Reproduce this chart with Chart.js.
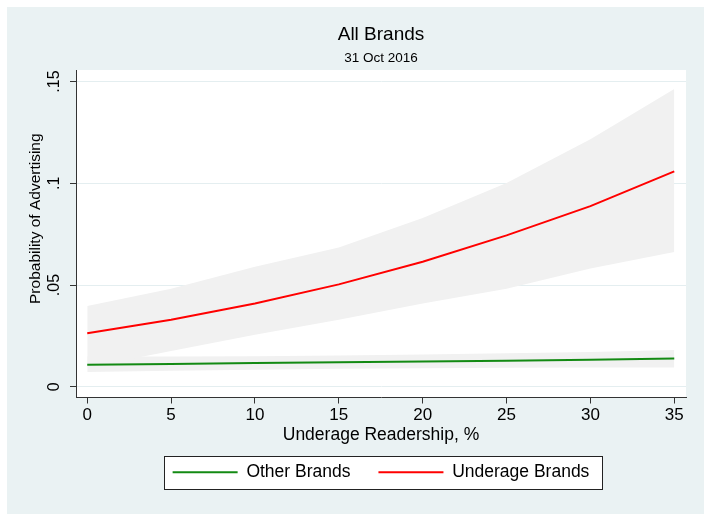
<!DOCTYPE html>
<html>
<head>
<meta charset="utf-8">
<script src="https://cdn.jsdelivr.net/npm/chart.js@4.4.1/dist/chart.umd.min.js"></script>
<style>
  html, body { margin: 0; padding: 0; background: #fff; }
  #wrap { width: 711px; height: 521px; }
</style>
</head>
<body>
<div id="wrap"><canvas id="chart" width="711" height="521"></canvas></div>
<script>
// values
const xValues = [0, 5, 10, 15, 20, 25, 30, 35];
const underageProb  = [0.0263, 0.0329, 0.0409, 0.0503, 0.0614, 0.0744, 0.0888, 0.1059];
const underageUpper = [0.0397, 0.0482, 0.0590, 0.0684, 0.0829, 0.1002, 0.1216, 0.1463];
const underageLower = [0.0095, 0.0176, 0.0255, 0.0329, 0.0409, 0.0482, 0.0581, 0.0662];
const otherProb  = [0.0108, 0.0112, 0.0116, 0.0120, 0.0124, 0.0128, 0.0133, 0.0139];
const otherUpper = [0.0149, 0.0149, 0.0150, 0.0153, 0.0158, 0.0164, 0.0171, 0.0180];
const otherLower = [0.0072, 0.0078, 0.0084, 0.0088, 0.0091, 0.0093, 0.0094, 0.0094];

const xTicks = [0, 5, 10, 15, 20, 25, 30, 35];
const yTicks = [0, 0.05, 0.1, 0.15];
const yTickLabels = ['0', '.05', '.1', '.15'];

const GREEN = '#138a13';
const RED = '#ff0000';
const BAND = '#f1f1f1';

function pts(arr) { return xValues.map((x, i) => ({ x, y: arr[i] })); }

function band(arr, fill) {
  return {
    label: '', data: pts(arr), fill,
    backgroundColor: BAND, borderWidth: 0, pointRadius: 0, tension: 0
  };
}

Chart.defaults.font.family = '"Liberation Sans", Arial, sans-serif';
Chart.defaults.color = '#000';

// stata-like backdrop, white plot region and boxed legend
const frame = {
  id: 'frame',
  afterLayout(chart) {
    const a = chart.chartArea;
    // titles and legend are centred on the plot region, not the canvas
    chart.boxes.forEach(b => {
      if (b.axis || (b.position !== 'top' && b.position !== 'bottom')) return;
      b.left = a.left; b.right = a.right; b.width = a.right - a.left;
    });
  },
  beforeDraw(chart) {
    const { ctx, chartArea: a } = chart;
    ctx.save();
    ctx.fillStyle = '#fff';
    ctx.fillRect(0, 0, chart.width, chart.height);
    ctx.fillStyle = '#eaf2f3';
    ctx.fillRect(7, 7, chart.width - 14, chart.height - 14);
    ctx.fillStyle = '#fff';
    ctx.fillRect(a.left, a.top, a.right - a.left, a.bottom - a.top);
    const hb = chart.legend.legendHitBoxes;
    if (hb && hb.length) {
      const last = hb[hb.length - 1];
      const l = Math.round(hb[0].left - 9), r = Math.round(last.left + last.width + 13);
      const t = Math.round(hb[0].top - 8), b = Math.round(hb[0].top + hb[0].height + 8);
      ctx.fillRect(l, t, r - l, b - t);
      ctx.strokeStyle = '#222';
      ctx.lineWidth = 1;
      ctx.strokeRect(l + 0.5, t + 0.5, r - l, b - t);
    }
    ctx.restore();
  }
};

const ctx = document.getElementById('chart').getContext('2d');
new Chart(ctx, {
  type: 'line',
  data: {
    datasets: [
      { label: 'Other Brands', data: pts(otherProb), borderColor: GREEN, backgroundColor: GREEN,
        borderWidth: 2, pointRadius: 0, tension: 0, fill: false },
      { label: 'Underage Brands', data: pts(underageProb), borderColor: RED, backgroundColor: RED,
        borderWidth: 2, pointRadius: 0, tension: 0, fill: false },
      band(underageUpper, '+1'),
      band(underageLower, false),
      band(otherUpper, '+1'),
      band(otherLower, false)
    ]
  },
  plugins: [frame],
  options: {
    responsive: false,
    animation: false,
    layout: { padding: { left: 0, right: 25, top: 0, bottom: 30 } },
    plugins: {
      filler: { drawTime: 'beforeDatasetsDraw' },
      tooltip: { enabled: false },
      title: { display: true, text: 'All Brands', font: { size: 19, weight: 'normal' },
        padding: { top: 23, bottom: 0 } },
      subtitle: { display: true, text: '31 Oct 2016', font: { size: 13.5 },
        padding: { top: 4, bottom: 4 } },
      legend: {
        position: 'bottom',
        labels: {
          boxWidth: 65, boxHeight: 2, padding: 28, font: { size: 17.5 },
          generateLabels: chart => chart.data.datasets
            .map((ds, i) => ({ text: ds.label, fillStyle: ds.borderColor, strokeStyle: ds.borderColor,
              lineWidth: 0, hidden: false, datasetIndex: i }))
            .filter(l => l.text)
        }
      }
    },
    scales: {
      x: {
        type: 'linear', min: -0.67, max: 35.7,
        afterBuildTicks: s => { s.ticks = xTicks.map(v => ({ value: v })); },
        afterFit: s => { s.height = 38; },
        grid: { drawOnChartArea: false, tickLength: 6, tickColor: '#333' },
        border: { color: '#333', width: 1 },
        ticks: { font: { size: 17 }, padding: 2, maxRotation: 0 },
        title: { display: true, text: 'Underage Readership, %', font: { size: 17.5 },
          padding: { top: 0, bottom: -10 } }
      },
      y: {
        type: 'linear', min: -0.0053, max: 0.1557,
        afterBuildTicks: s => { s.ticks = yTicks.map(v => ({ value: v })); },
        afterFit: s => { s.width = 76; },
        grid: { color: '#e4eef0', tickLength: 6, tickColor: '#333' },
        border: { color: '#333', width: 1 },
        ticks: { font: { size: 16 }, minRotation: 90, maxRotation: 90, crossAlign: 'center', padding: 4,
          callback: (v, i) => yTickLabels[i] },
        title: { display: true, text: '\u00a0\u00a0\u00a0\u00a0\u00a0\u00a0\u00a0Probability of Advertising', font: { size: 15.5 },
          padding: { top: 26, bottom: 0 } }
      }
    }
  }
});
</script>
</body>
</html>
